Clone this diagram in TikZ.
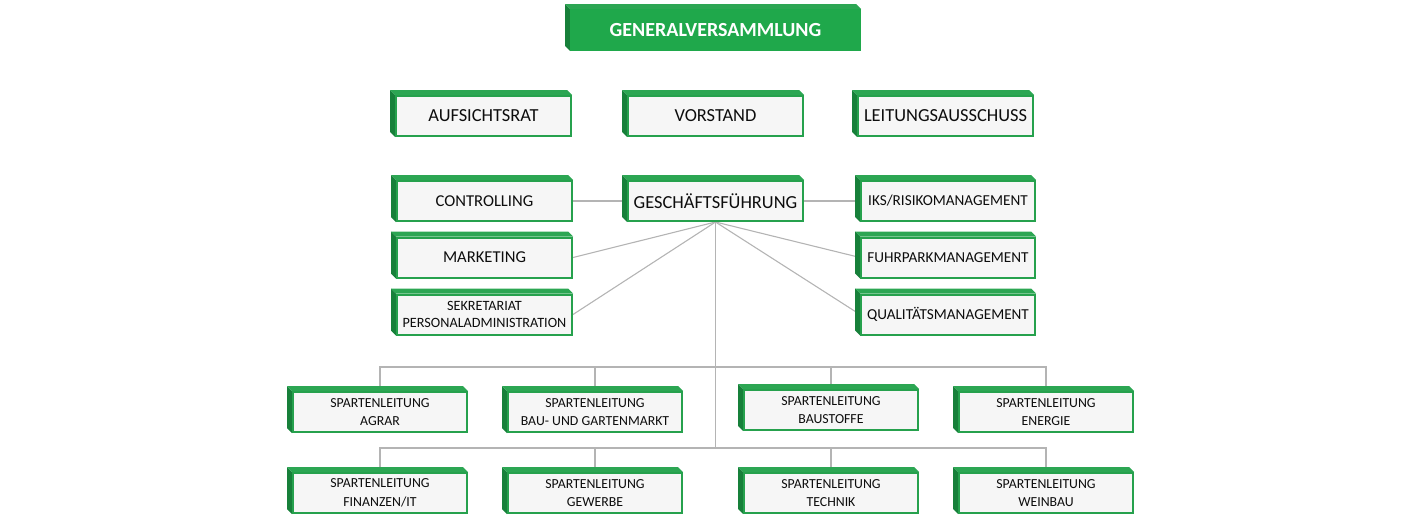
\documentclass[tikz,border=0pt]{standalone}
\usepackage{fontspec}
\setmainfont{Carlito}
\usetikzlibrary{calc, backgrounds}
\definecolor{orgGreen}{HTML}{26A14D}
\definecolor{orgHead}{HTML}{1FA84B}
\definecolor{orgDark}{HTML}{17803A}
\definecolor{orgTop}{HTML}{2CA653}
\definecolor{orgFace}{HTML}{F6F6F6}
\definecolor{orgLine}{HTML}{B4B4B4}
\definecolor{orgText}{HTML}{0D0D0D}
\tikzset{
  % face of a box; the green bevel is added afterwards by \orgbevel
  orgbox/.style   = {draw=orgGreen, line width=1pt, fill=orgFace, text=orgText,
                     inner sep=0pt, minimum width=87.5pt, minimum height=20pt, align=center},
  headbox/.style  = {orgbox, fill=orgHead, draw=orgHead, text=white,
                     minimum width=144.5pt, font=\fontsize{10}{12}\selectfont\bfseries},
  spartbox/.style = {orgbox, minimum width=87pt, font=\fontsize{6.9}{9.3}\selectfont},
  bigtxt/.style   = {font=\fontsize{9.2}{11}\selectfont},
  midtxt/.style   = {font=\fontsize{8.3}{10}\selectfont},
  smalltxt/.style = {font=\fontsize{7.6}{9}\selectfont},
  conn/.style     = {orgLine, line width=0.55pt},
}
\newcommand{\orgbevel}[1]{%
  \fill[orgDark] ($(#1.north west)+(-5,-5)$) -- (#1.north west) -- (#1.south west)
    -- ($(#1.south west)+(-5,-5)$) -- cycle;
  \fill[orgTop] ($(#1.north west)+(-5,-5)$) -- ($(#1.north east)+(-5,-5)$)
    -- (#1.north east) -- (#1.north west) -- cycle;}

\begin{document}
\begin{tikzpicture}[x=0.5pt, y=-0.5pt]
  \useasboundingbox (0,0) rectangle (1420,520);
  % top
  \node[headbox] (gv) at (715.5,30) {GENERALVERSAMMLUNG};
  \node[orgbox, bigtxt] (aufsicht) at (483.5,116) {AUFSICHTSRAT};
  \node[orgbox, bigtxt] (vorstand) at (715.5,116) {VORSTAND};
  \node[orgbox, bigtxt] (leitung)  at (945.5,116) {LEITUNGSAUSSCHUSS};
  % management and staff units
  \node[orgbox, bigtxt]   (gf)   at (715.5,201) {GESCHÄFTSFÜHRUNG};
  \node[orgbox, midtxt]   (ctrl) at (484.5,201) {CONTROLLING};
  \node[orgbox, midtxt]   (mkt)  at (484.5,257.5) {MARKETING};
  \node[orgbox, font=\fontsize{7.1}{8.7}\selectfont] (sek) at (484.5,314.5)
    {SEKRETARIAT\\PERSONALADMINISTRATION};
  \node[orgbox, smalltxt, minimum width=87pt] (iks)  at (948,201) {IKS/RISIKOMANAGEMENT};
  \node[orgbox, smalltxt, minimum width=87pt] (fuhr) at (948,257.5) {FUHRPARKMANAGEMENT};
  \node[orgbox, smalltxt, minimum width=87pt] (qual) at (948,314.5) {QUALITÄTSMANAGEMENT};
  % divisions
  \node[spartbox] (agrar)     at (380,412)  {SPARTENLEITUNG\\AGRAR};
  \node[spartbox] (bau)       at (595,412)  {SPARTENLEITUNG\\BAU- UND GARTENMARKT};
  \node[spartbox] (baustoffe) at (831,410)  {SPARTENLEITUNG\\BAUSTOFFE};
  \node[spartbox] (energie)   at (1046,412) {SPARTENLEITUNG\\ENERGIE};
  \node[spartbox] (finanzen)  at (380,493)  {SPARTENLEITUNG\\FINANZEN/IT};
  \node[spartbox] (gewerbe)   at (595,493)  {SPARTENLEITUNG\\GEWERBE};
  \node[spartbox] (technik)   at (831,493)  {SPARTENLEITUNG\\TECHNIK};
  \node[spartbox] (weinbau)   at (1046,493) {SPARTENLEITUNG\\WEINBAU};
  \coordinate (bus1) at (715.5,367);
  \coordinate (bus2) at (715.5,448);
  \begin{scope}[on background layer]
    % connectors
    \draw[conn] (ctrl.east) -- (gf.west);
    \draw[conn] (gf.east) -- (iks.west);
    \draw[conn] (gf.south) -- (mkt.east);
    \draw[conn] (gf.south) -- (sek.east);
    \draw[conn] (gf.south) -- (fuhr.west);
    \draw[conn] (gf.south) -- (qual.west);
    \draw[conn] (gf.south) -- (bus2);
    \draw[conn] (agrar.north) |- (bus1) -| (energie.north);
    \draw[conn] (bau.north) -- (bau.north |- bus1);
    \draw[conn] (baustoffe.north) -- (baustoffe.north |- bus1);
    \draw[conn] (finanzen.north) |- (bus2) -| (weinbau.north);
    \draw[conn] (gewerbe.north) -- (gewerbe.north |- bus2);
    \draw[conn] (technik.north) -- (technik.north |- bus2);
    % bevels
    \foreach \n in {gv, aufsicht, vorstand, leitung, gf, ctrl, mkt, sek, iks, fuhr, qual,
                    agrar, bau, baustoffe, energie, finanzen, gewerbe, technik, weinbau}
      {\orgbevel{\n}}
  \end{scope}
\end{tikzpicture}
\end{document}
